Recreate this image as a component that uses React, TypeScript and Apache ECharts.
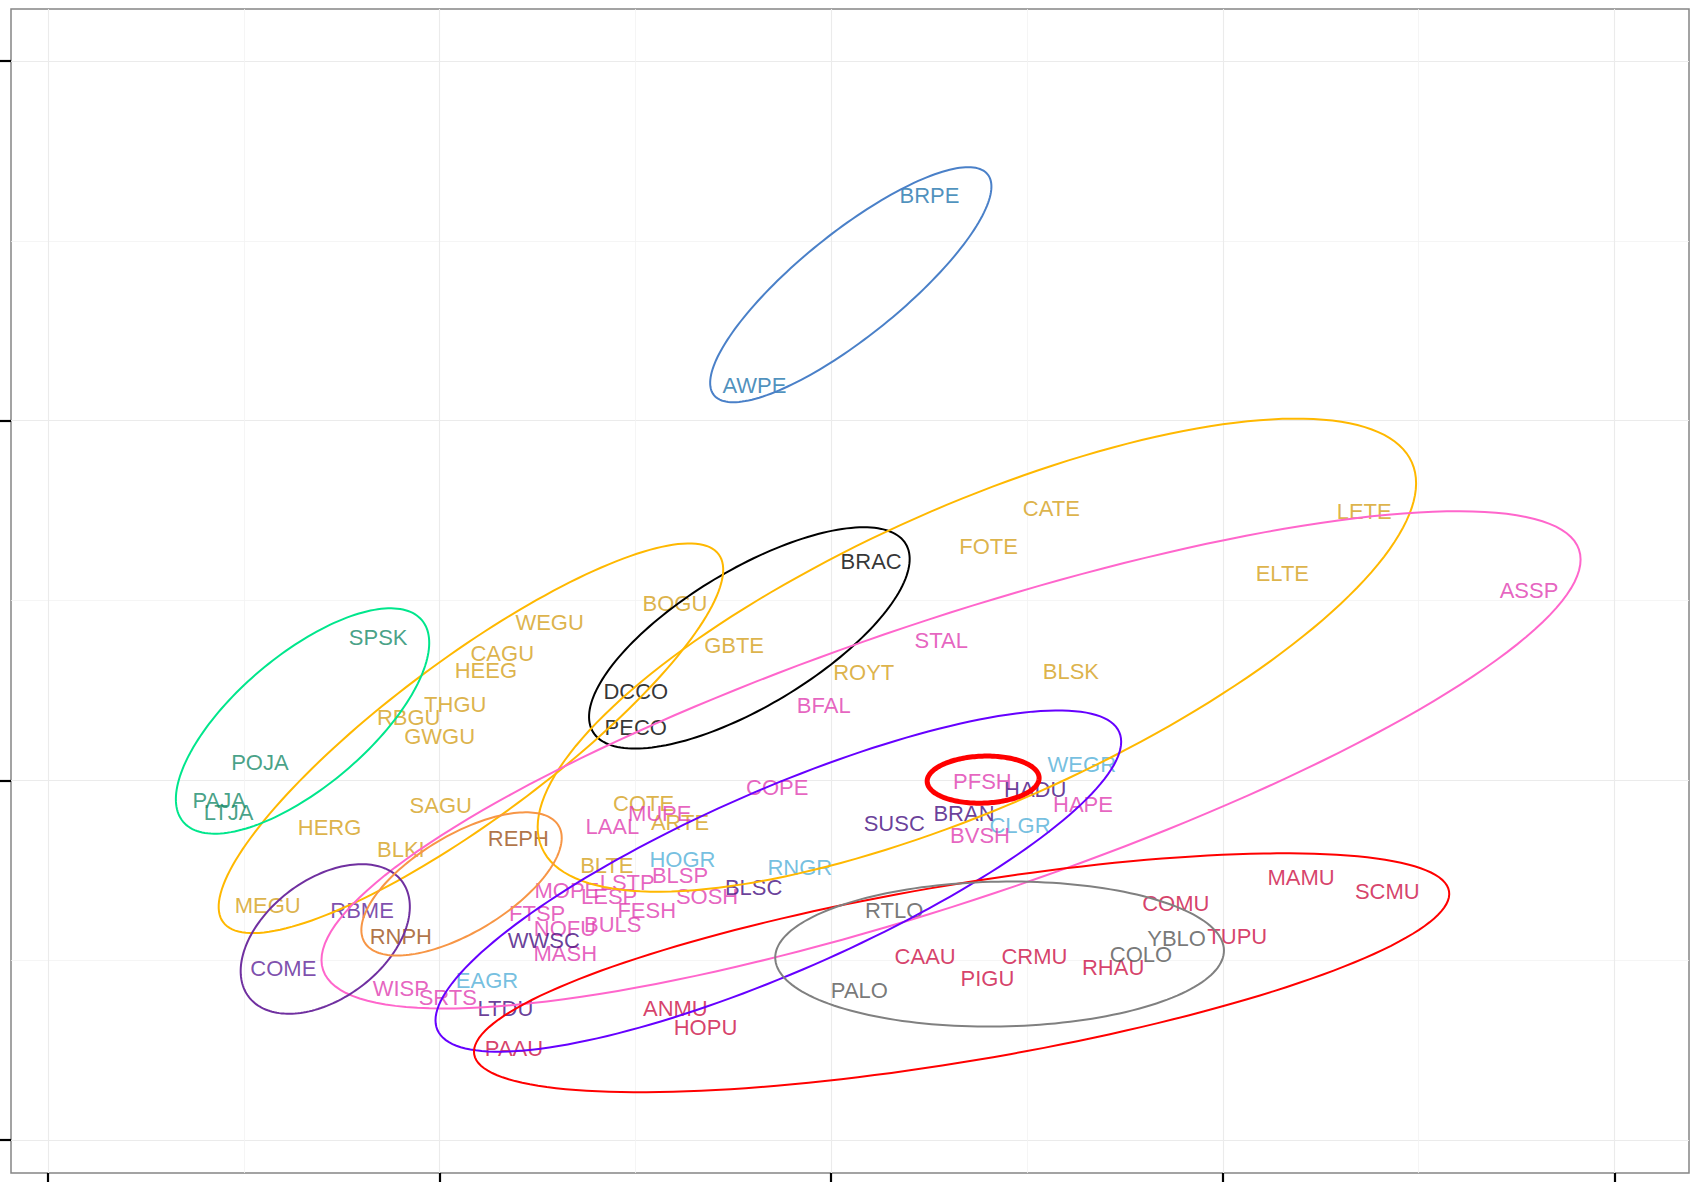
import React, { useEffect, useRef } from "react";
import * as echarts from "echarts";

// ---- Species labels and their ordination scores ----
const pelicanNames = ["BRPE", "AWPE"];
const pelicanX = [0.251, -0.196];
const pelicanY = [1.625, 1.099];

const cormorantNames = ["BRAC", "DCCO", "PECO"];
const cormorantX = [0.102, -0.499, -0.499];
const cormorantY = [0.608, 0.246, 0.147];

const ternNames = ["CATE", "LETE", "ELTE", "FOTE", "GBTE", "ROYT", "BLSK", "COTE", "ARTE", "BLTE"];
const ternX = [0.562, 1.361, 1.152, 0.402, -0.248, 0.083, 0.612, -0.479, -0.386, -0.573];
const ternY = [0.757, 0.748, 0.574, 0.649, 0.374, 0.299, 0.303, -0.063, -0.117, -0.237];

const gullNames = ["BOGU", "WEGU", "CAGU", "HEEG", "THGU", "RBGU", "GWGU", "SAGU", "HERG", "BLKI", "MEGU"];
const gullX = [-0.399, -0.719, -0.84, -0.882, -0.96, -1.079, -1.0, -0.997, -1.281, -1.099, -1.439];
const gullY = [0.492, 0.438, 0.353, 0.305, 0.212, 0.174, 0.123, -0.069, -0.132, -0.192, -0.347];

const skuaNames = ["SPSK", "POJA", "PAJA", "LTJA"];
const skuaX = [-1.157, -1.459, -1.563, -1.539];
const skuaY = [0.398, 0.05, -0.056, -0.09];

const tubenoseNames = ["ASSP", "STAL", "BFAL", "PFSH", "COPE", "MUPE", "HAPE", "LAAL", "BVSH", "BLSP", "LSTP", "MOPE", "LESP", "SOSH", "FTSP", "FESH", "NOFU", "BULS", "MASH", "WISP", "SRTS"];
const tubenoseX = [1.782, 0.281, -0.019, 0.386, -0.138, -0.438, 0.643, -0.559, 0.38, -0.386, -0.521, -0.675, -0.567, -0.317, -0.751, -0.471, -0.68, -0.558, -0.679, -1.099, -0.979];
const tubenoseY = [0.529, 0.39, 0.209, -0.002, -0.02, -0.092, -0.066, -0.129, -0.153, -0.264, -0.285, -0.306, -0.324, -0.324, -0.369, -0.363, -0.411, -0.401, -0.482, -0.58, -0.605];

const grebeNames = ["WEGR", "CLGR", "HOGR", "RNGR", "EAGR"];
const grebeX = [0.64, 0.482, -0.38, -0.08, -0.879];
const grebeY = [0.045, -0.125, -0.221, -0.243, -0.556];

const seaduckNames = ["HADU", "BRAN", "SUSC", "BLSC", "WWSC", "LTDU"];
const seaduckX = [0.521, 0.339, 0.161, -0.198, -0.734, -0.832];
const seaduckY = [-0.026, -0.092, -0.12, -0.299, -0.444, -0.635];

const merganserNames = ["RBME", "COME"];
const merganserX = [-1.198, -1.399];
const merganserY = [-0.363, -0.523];

const phalaropeNames = ["REPH", "RNPH"];
const phalaropeX = [-0.799, -1.099];
const phalaropeY = [-0.162, -0.434];

const alcidNames = ["MAMU", "SCMU", "COMU", "TUPU", "CAAU", "CRMU", "RHAU", "PIGU", "ANMU", "HOPU", "PAAU"];
const alcidX = [1.2, 1.42, 0.88, 1.037, 0.24, 0.519, 0.72, 0.399, -0.398, -0.321, -0.81];
const alcidY = [-0.269, -0.308, -0.342, -0.434, -0.489, -0.489, -0.521, -0.551, -0.635, -0.686, -0.746];

const loonNames = ["RTLO", "YBLO", "COLO", "PALO"];
const loonX = [0.161, 0.882, 0.791, 0.072];
const loonY = [-0.362, -0.441, -0.483, -0.583];

// ---- Group ellipses: centre, semi-axes (in x-axis units), tilt in degrees ----
const ellipseGroups = ["pelicans", "cormorants", "gulls", "terns", "skuas", "tubenoses", "mergansers", "phalaropes", "seaducks", "alcids", "loons", "focal"];
const ellipseCX = [0.05, -0.209, -0.92, 0.372, -1.35, 0.306, -1.292, -0.944, -0.135, 0.333, 0.43, 0.388];
const ellipseCY = [1.378, 0.396, 0.117, 0.348, 0.165, 0.057, -0.441, -0.288, -0.28, -0.535, -0.483, 0.002];
const ellipseA = [0.449, 0.466, 0.788, 1.215, 0.399, 1.691, 0.245, 0.289, 0.95, 1.262, 0.573, 0.143];
const ellipseB = [0.132, 0.174, 0.204, 0.383, 0.168, 0.358, 0.152, 0.124, 0.232, 0.226, 0.185, 0.06];
const ellipseAngle = [38.9, 31, 36.6, 23.9, 40.2, 18.5, 37, 31, 23.6, 9.5, 1, 2];

// ---- Axis ticks ----
const xTicks = [-2, -1, 0, 1, 2];
const yTicks = [-1, 0, 1, 2];

// ---- Styles ----
const textColor: Record<string, string> = {
  pelicans: "#1f74ac",
  cormorants: "#000000",
  terns: "#d4a01a",
  gulls: "#d4a01a",
  skuas: "#178a68",
  tubenoses: "#e03cb0",
  grebes: "#52afd8",
  seaducks: "#440c80",
  mergansers: "#5d1f98",
  phalaropes: "#9c5018",
  alcids: "#cc0f45",
  loons: "#555555",
};
const lineColor: Record<string, string> = {
  pelicans: "#4a80c8",
  cormorants: "#000000",
  terns: "#ffb800",
  gulls: "#ffb800",
  skuas: "#00e68c",
  tubenoses: "#ff66cc",
  seaducks: "#6600ff",
  mergansers: "#7030a0",
  phalaropes: "#f79646",
  alcids: "#ff0000",
  loons: "#808080",
  focal: "#ff0000",
};
const lineWidth: Record<string, number> = { focal: 5 };

const labelGroups: [string, string[], number[], number[]][] = [
  ["pelicans", pelicanNames, pelicanX, pelicanY],
  ["cormorants", cormorantNames, cormorantX, cormorantY],
  ["terns", ternNames, ternX, ternY],
  ["gulls", gullNames, gullX, gullY],
  ["skuas", skuaNames, skuaX, skuaY],
  ["grebes", grebeNames, grebeX, grebeY],
  ["tubenoses", tubenoseNames, tubenoseX, tubenoseY],
  ["seaducks", seaduckNames, seaduckX, seaduckY],
  ["mergansers", merganserNames, merganserX, merganserY],
  ["phalaropes", phalaropeNames, phalaropeX, phalaropeY],
  ["alcids", alcidNames, alcidX, alcidY],
  ["loons", loonNames, loonX, loonY],
];

export default function App() {
  const ref = useRef<HTMLDivElement>(null);
  useEffect(() => {
    if (!ref.current) return;
    const chart = echarts.init(ref.current, null, { renderer: "svg" });

    const labelSeries = labelGroups.map(([key, names, xs, ys]) => ({
      type: "scatter",
      name: key,
      silent: true,
      z: 2,
      symbol: "circle",
      symbolSize: 1,
      itemStyle: { color: "rgba(0,0,0,0)" },
      data: names.map((n, i) => ({ name: n, value: [xs[i], ys[i]] })),
      label: {
        show: true,
        position: "inside",
        formatter: "{b}",
        color: textColor[key],
        fontSize: 22,
        fontFamily: "Liberation Sans, Arial, sans-serif",
      },
    }));

    const ellipseData = ellipseGroups.map((g, i) => [
      ellipseCX[i],
      ellipseCY[i],
      ellipseA[i],
      ellipseB[i],
      ellipseAngle[i],
      i,
    ]);

    const ellipseSeries = {
      type: "custom",
      name: "ellipses",
      silent: true,
      z: 3,
      clip: false,
      data: ellipseData,
      renderItem: (params: any, api: any) => {
        const cx = api.value(0);
        const cy = api.value(1);
        const a = api.value(2);
        const b = api.value(3);
        const th = (api.value(4) * Math.PI) / 180;
        const g = ellipseGroups[api.value(5)];
        const s = api.size([1, 1]);
        const ratio = s[0] / s[1];
        const pts: number[][] = [];
        const n = 180;
        for (let k = 0; k <= n; k++) {
          const t = (k / n) * Math.PI * 2;
          const ex = a * Math.cos(t);
          const ey = b * Math.sin(t);
          const dx = ex * Math.cos(th) - ey * Math.sin(th);
          const dy = (ex * Math.sin(th) + ey * Math.cos(th)) * ratio;
          pts.push(api.coord([cx + dx, cy + dy]));
        }
        return {
          type: "polygon",
          shape: { points: pts },
          style: {
            fill: "none",
            stroke: lineColor[g],
            lineWidth: lineWidth[g] || 2,
          },
        };
      },
    };

    chart.setOption({
      animation: false,
      backgroundColor: "#ffffff",
      grid: {
        left: 11,
        right: 3,
        top: 9,
        bottom: 9,
        show: true,
        borderColor: "#858585",
        borderWidth: 1.5,
        backgroundColor: "#ffffff",
      },
      xAxis: {
        type: "value",
        min: -2.0945,
        max: 2.1905,
        position: "bottom",
        axisLine: { show: false, onZero: false },
        axisTick: {
          show: true,
          inside: false,
          length: 10,
          customValues: xTicks,
          lineStyle: { color: "#000", width: 2.2 },
        },
        axisLabel: { show: false, customValues: xTicks },
        splitLine: { show: true, lineStyle: { color: "#ebebeb", width: 1.1 } },
        minorTick: { show: false, splitNumber: 2 },
        minorSplitLine: { show: true, lineStyle: { color: "#f3f3f3", width: 0.8 } },
      },
      yAxis: {
        type: "value",
        min: -1.0917,
        max: 2.1446,
        splitNumber: 3,
        position: "left",
        axisLine: { show: false, onZero: false },
        axisTick: {
          show: true,
          inside: false,
          length: 11,
          customValues: yTicks,
          lineStyle: { color: "#000", width: 2.2 },
        },
        axisLabel: { show: false, customValues: yTicks },
        splitLine: { show: true, lineStyle: { color: "#ebebeb", width: 1.1 } },
        minorTick: { show: false, splitNumber: 2 },
        minorSplitLine: { show: true, lineStyle: { color: "#f3f3f3", width: 0.8 } },
      },
      series: [...labelSeries, ellipseSeries],
    });

    return () => chart.dispose();
  }, []);

  return (
    <div
      ref={ref}
      style={{ position: "absolute", left: 0, top: 0, width: 1692, height: 1182, background: "#fff" }}
    />
  );
}
